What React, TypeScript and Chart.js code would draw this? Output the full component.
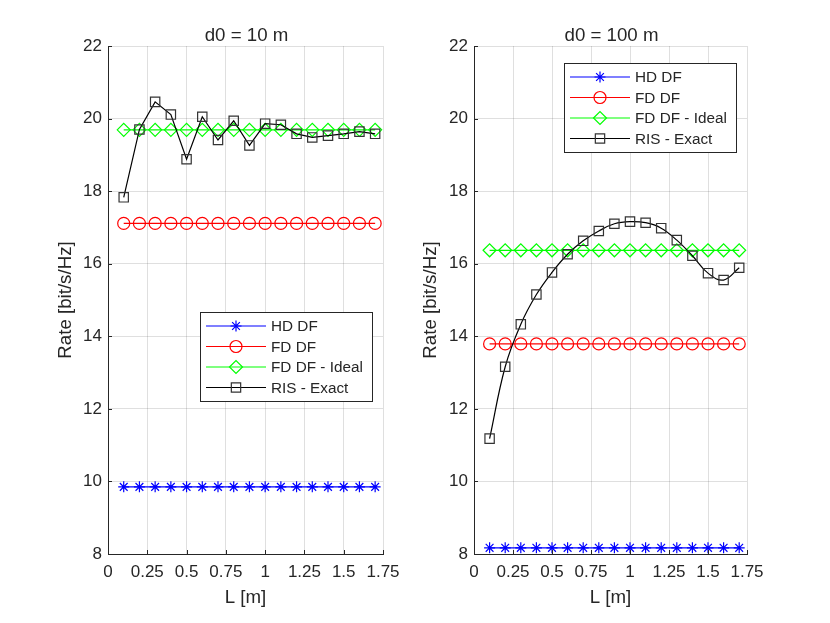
import { useEffect, useRef } from "react";
import { Chart, registerables } from "chart.js";
import { drawPoint } from "chart.js/helpers";

Chart.register(...registerables);

// L values (m) where each curve was sampled
const lengths = [0.1, 0.2, 0.3, 0.4, 0.5, 0.6, 0.7, 0.8, 0.9, 1.0, 1.1, 1.2, 1.3, 1.4, 1.5, 1.6, 1.7];
const xTicks = [0, 0.25, 0.5, 0.75, 1, 1.25, 1.5, 1.75];
const yTicks = [8, 10, 12, 14, 16, 18, 20, 22];
const seriesNames = ["HD DF", "FD DF", "FD DF - Ideal", "RIS - Exact"];

// d0 = 10 m
const hd10 = [9.85, 9.85, 9.85, 9.85, 9.85, 9.85, 9.85, 9.85, 9.85, 9.85, 9.85, 9.85, 9.85, 9.85, 9.85, 9.85, 9.85];
const fd10 = [17.11, 17.11, 17.11, 17.11, 17.11, 17.11, 17.11, 17.11, 17.11, 17.11, 17.11, 17.11, 17.11, 17.11, 17.11, 17.11, 17.11];
const ideal10 = [19.69, 19.69, 19.69, 19.69, 19.69, 19.69, 19.69, 19.69, 19.69, 19.69, 19.69, 19.69, 19.69, 19.69, 19.69, 19.69, 19.69];
const ris10 = [17.83, 19.7, 20.46, 20.11, 18.88, 20.05, 19.41, 19.94, 19.26, 19.86, 19.83, 19.58, 19.48, 19.53, 19.58, 19.64, 19.58];

// d0 = 100 m
const hd100 = [8.17, 8.17, 8.17, 8.17, 8.17, 8.17, 8.17, 8.17, 8.17, 8.17, 8.17, 8.17, 8.17, 8.17, 8.17, 8.17, 8.17];
const fd100 = [13.79, 13.79, 13.79, 13.79, 13.79, 13.79, 13.79, 13.79, 13.79, 13.79, 13.79, 13.79, 13.79, 13.79, 13.79, 13.79, 13.79];
const ideal100 = [16.37, 16.37, 16.37, 16.37, 16.37, 16.37, 16.37, 16.37, 16.37, 16.37, 16.37, 16.37, 16.37, 16.37, 16.37, 16.37, 16.37];
const ris100 = [11.18, 13.16, 14.33, 15.15, 15.76, 16.26, 16.63, 16.9, 17.1, 17.16, 17.13, 16.98, 16.65, 16.22, 15.74, 15.55, 15.89];

const FONT = "'Liberation Sans', Arial, Helvetica, sans-serif";
const INK = "#262626";

const toPoints = (ys: number[]) => lengths.map((x, i) => ({ x, y: ys[i] }));

// title, inward tick marks and the boxed legend, MATLAB style
const decorPlugin = {
  id: "decor",
  afterDraw(chart: any, _args: any, opts: any) {
    const { ctx, chartArea } = chart;
    const { left, right, top, bottom } = chartArea;
    ctx.save();

    ctx.fillStyle = INK;
    ctx.font = `18.7px ${FONT}`;
    ctx.textAlign = "center";
    ctx.textBaseline = "middle";
    ctx.fillText(opts.title, (left + right) / 2 + 1, 36);

    ctx.strokeStyle = INK;
    ctx.lineWidth = 1;
    ctx.beginPath();
    for (const v of xTicks) {
      const px = Math.round(chart.scales.x.getPixelForValue(v)) + 0.5;
      ctx.moveTo(px, bottom);
      ctx.lineTo(px, bottom - 4);
    }
    for (const v of yTicks) {
      const py = Math.round(chart.scales.y.getPixelForValue(v)) + 0.5;
      ctx.moveTo(left, py);
      ctx.lineTo(left + 4, py);
    }
    ctx.stroke();

    const b = opts.legend;
    ctx.fillStyle = "#fff";
    ctx.fillRect(b.x, b.y, b.w, b.h);
    ctx.strokeStyle = INK;
    ctx.strokeRect(b.x + 0.5, b.y + 0.5, b.w, b.h);
    ctx.font = `15.3px ${FONT}`;
    ctx.textAlign = "left";
    seriesNames.forEach((name, i) => {
      const ds = chart.data.datasets.find((d: any) => d.label === name);
      const y = b.y + 14 + i * 20.5;
      ctx.strokeStyle = ds.borderColor;
      ctx.lineWidth = 1.2;
      ctx.beginPath();
      ctx.moveTo(b.x + 6, y);
      ctx.lineTo(b.x + 66, y);
      ctx.stroke();
      ctx.strokeStyle = ds.pointBorderColor;
      ctx.fillStyle = "rgba(0,0,0,0)";
      drawPoint(ctx, { pointStyle: ds.pointStyle, radius: ds.pointRadius, borderWidth: 1.2, rotation: 0 }, b.x + 36, y);
      ctx.fillStyle = INK;
      ctx.fillText(name, b.x + 71, y + 1);
    });
    ctx.restore();
  },
};

function RatePanel({
  title,
  hd,
  fd,
  ideal,
  ris,
  yAxisWidth,
  padRight,
  yTitlePad,
  legend,
  tension,
}: {
  title: string;
  hd: number[];
  fd: number[];
  ideal: number[];
  ris: number[];
  yAxisWidth: number;
  padRight: number;
  yTitlePad: number;
  legend: { x: number; y: number; w: number; h: number };
  tension: number;
}) {
  const canvasRef = useRef<HTMLCanvasElement | null>(null);

  useEffect(() => {
    const canvas = canvasRef.current;
    if (!canvas) return;

    const series = (label: string, ys: number[], color: string, style: string, radius: number, order: number, t = 0) => ({
      label,
      data: toPoints(ys),
      borderColor: color,
      borderWidth: 1.2,
      pointStyle: style,
      pointRadius: radius,
      pointBorderColor: color === "#000000" ? "#333333" : color,
      pointBackgroundColor: "rgba(0,0,0,0)",
      pointBorderWidth: 1.2,
      tension: t,
      order,
      clip: false as any,
    });

    const chart = new Chart(canvas, {
      type: "line",
      data: {
        datasets: [
          series("HD DF", hd, "#0000ff", "star", 5.5, 3),
          series("FD DF", fd, "#ff0000", "circle", 6, 2),
          series("FD DF - Ideal", ideal, "#00ff00", "rectRot", 6.5, 1),
          series("RIS - Exact", ris, "#000000", "rect", 6.6, 0, tension),
        ],
      },
      options: {
        responsive: false,
        animation: false,
        layout: { padding: { left: 0, top: 46, right: padRight, bottom: 0 } },
        plugins: {
          legend: { display: false },
          tooltip: { enabled: false },
          decor: { title, legend },
        } as any,
        scales: {
          x: {
            type: "linear",
            min: 0,
            max: 1.75,
            afterBuildTicks: (s: any) => {
              s.ticks = xTicks.map((value) => ({ value }));
            },
            afterFit: (s: any) => {
              s.height = 69;
            },
            grid: { color: "rgba(38,38,38,0.15)", drawTicks: false },
            border: { color: INK, width: 1 },
            ticks: {
              color: INK,
              font: { family: FONT, size: 17 },
              padding: 8,
              maxRotation: 0,
              autoSkip: false,
              callback: (v: any) => String(v),
            },
            title: {
              display: true,
              text: "L [m]",
              color: INK,
              font: { family: FONT, size: 18.7 },
              padding: { top: 0, bottom: 14 },
            },
          },
          y: {
            type: "linear",
            min: 8,
            max: 22,
            afterBuildTicks: (s: any) => {
              s.ticks = yTicks.map((value) => ({ value }));
            },
            afterFit: (s: any) => {
              s.width = yAxisWidth;
            },
            grid: { color: "rgba(38,38,38,0.15)", drawTicks: false },
            border: { color: INK, width: 1 },
            ticks: {
              color: INK,
              font: { family: FONT, size: 17 },
              padding: 6,
              callback: (v: any) => String(v),
            },
            title: {
              display: true,
              text: "Rate [bit/s/Hz]",
              color: INK,
              font: { family: FONT, size: 18.7 },
              padding: { top: yTitlePad, bottom: 0 },
            },
          },
        },
      },
      plugins: [decorPlugin as any],
    });

    return () => {
      chart.destroy();
    };
  }, [title, hd, fd, ideal, ris, yAxisWidth, padRight, yTitlePad, legend, tension]);

  return <canvas ref={canvasRef} width={415} height={623} style={{ display: "block" }} />;
}

const legendLeft = { x: 200, y: 312, w: 172, h: 89 };
const legendRight = { x: 149, y: 63, w: 172, h: 89 };

export default function App() {
  return (
    <div
      style={{
        position: "absolute",
        left: 0,
        top: 0,
        width: 830,
        height: 623,
        background: "#ffffff",
        display: "flex",
      }}
    >
      <RatePanel
        title="d0 = 10 m"
        hd={hd10}
        fd={fd10}
        ideal={ideal10}
        ris={ris10}
        yAxisWidth={108}
        padRight={32}
        yTitlePad={55}
        legend={legendLeft}
        tension={0}
      />
      <RatePanel
        title="d0 = 100 m"
        hd={hd100}
        fd={fd100}
        ideal={ideal100}
        ris={ris100}
        yAxisWidth={59}
        padRight={83}
        yTitlePad={5}
        legend={legendRight}
        tension={0.4}
      />
    </div>
  );
}
